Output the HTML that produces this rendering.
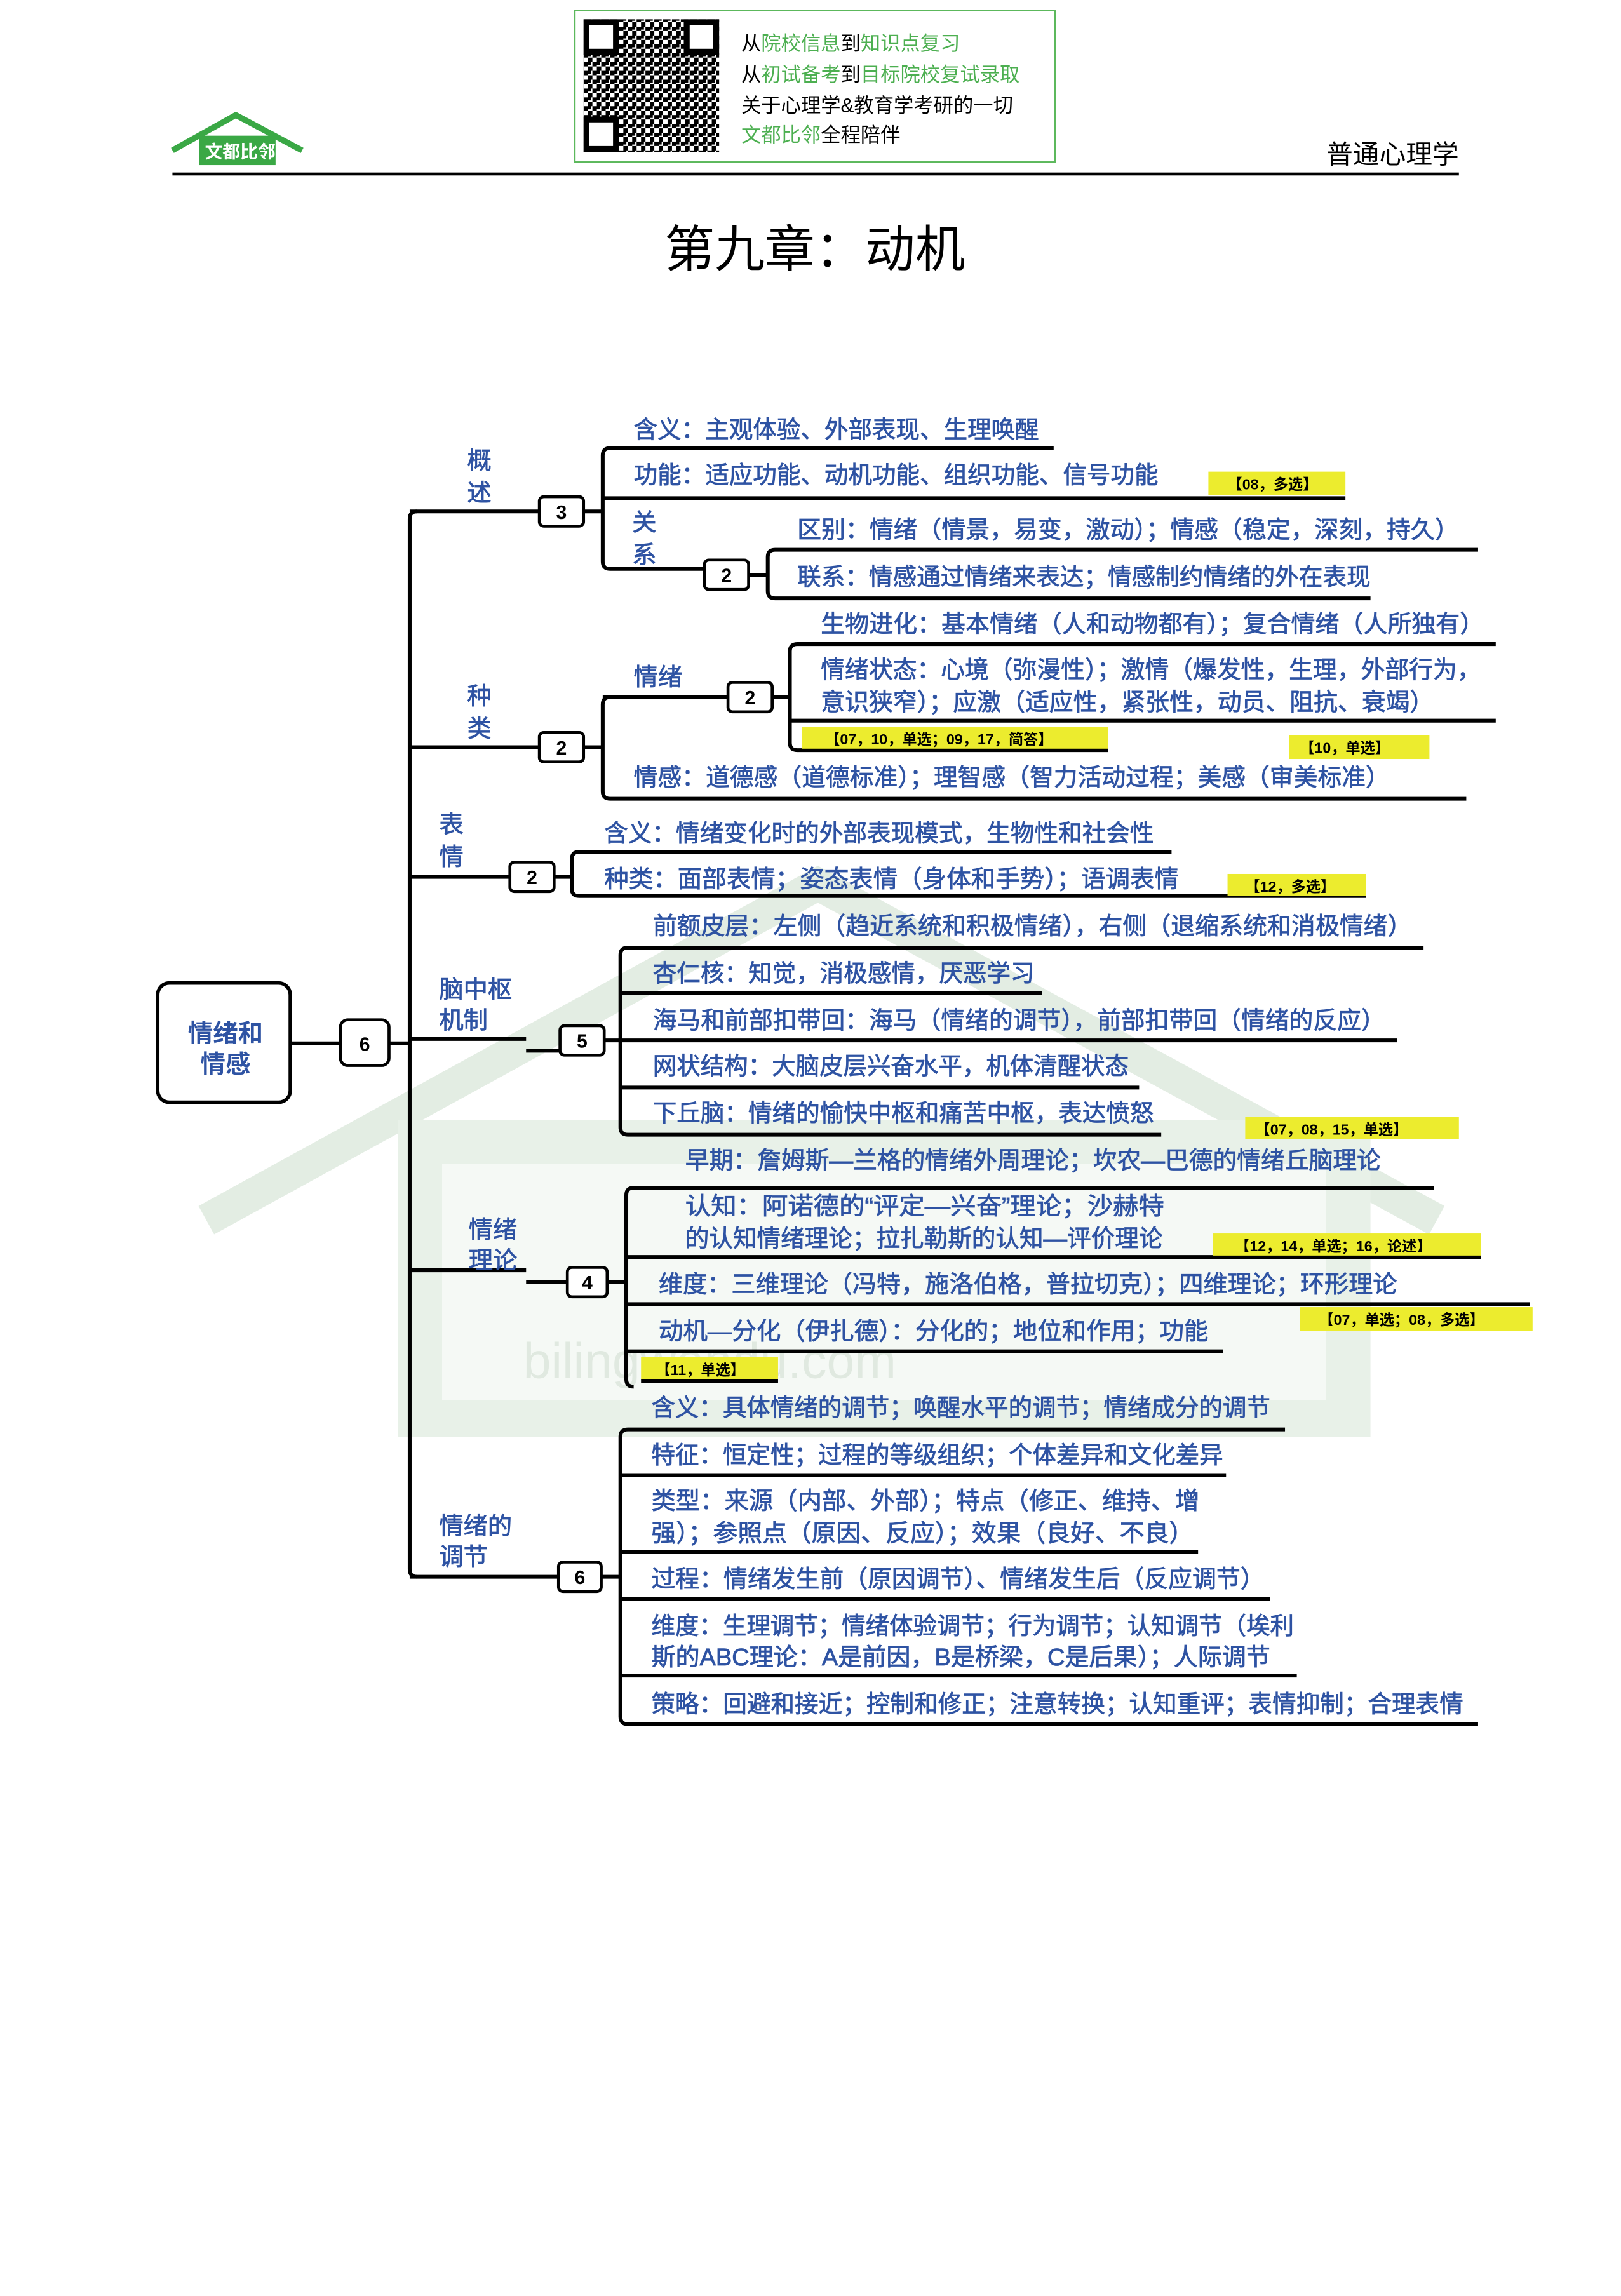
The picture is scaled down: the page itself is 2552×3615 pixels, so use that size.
<!DOCTYPE html>
<html><head><meta charset="utf-8"><style>
html,body{margin:0;padding:0;background:#fff}
svg{display:block}
text{font-family:"Liberation Sans","Noto Sans CJK SC",sans-serif}
.b{fill:#2e53a3;font-size:16.5px;stroke:#2e53a3;stroke-width:0.35}
.t{fill:#000;font-size:10px;font-weight:bold}
.n{fill:#000;font-size:13px;font-weight:bold;text-anchor:middle}
.l{stroke:#000;stroke-width:2.6;fill:none}
.box{stroke:#000;stroke-width:2;fill:#fff}
.y{fill:#ecec2e}
</style></head><body>
<svg width="2552" height="3615" viewBox="0 0 1100 1558" xmlns="http://www.w3.org/2000/svg">
<!-- watermark -->
<g fill="none" stroke="#e3ede3" stroke-width="22">
<path d="M140 828 L555 600 L975 828"/>
</g>
<rect x="270" y="760" width="660" height="215" fill="#e8f1e8"/>
<rect x="300" y="790" width="600" height="160" fill="#f5f9f5"/>
<text x="355" y="935" font-size="34" fill="#e0e9e0">bilingwendu.com</text>

<!-- header -->
<rect x="390" y="7" width="326" height="103" fill="#fff" stroke="#5cb85c" stroke-width="1.2"/>
<defs><pattern id="qr" width="6" height="6" patternUnits="userSpaceOnUse"><rect width="3" height="3" fill="#000"/><rect x="3" y="3" width="3" height="3" fill="#000"/><rect x="3" width="2" height="2" fill="#000"/></pattern></defs>
<rect x="396" y="13" width="92" height="90" fill="url(#qr)"/>
<g fill="#fff" stroke="#000" stroke-width="4">
<rect x="398" y="15" width="20" height="20"/><rect x="466" y="15" width="20" height="20"/><rect x="398" y="81" width="20" height="20"/></g>
<g font-size="13.5">
<text x="503" y="34"><tspan>从</tspan><tspan fill="#4caf50">院校信息</tspan><tspan>到</tspan><tspan fill="#4caf50">知识点复习</tspan></text>
<text x="503" y="55"><tspan>从</tspan><tspan fill="#4caf50">初试备考</tspan><tspan>到</tspan><tspan fill="#4caf50">目标院校复试录取</tspan></text>
<text x="503" y="76">关于心理学&amp;教育学考研的一切</text>
<text x="503" y="96"><tspan fill="#4caf50">文都比邻</tspan><tspan>全程陪伴</tspan></text>
</g>
<path d="M117 102 L160 78 L205 102" fill="none" stroke="#3aa845" stroke-width="4"/>
<rect x="135" y="92" width="52" height="20" fill="#3aa845"/>
<text x="139" y="107" font-size="12" fill="#fff" font-weight="bold">文都比邻</text>
<rect x="117" y="117" width="873" height="2" fill="#000"/>
<text x="900" y="111" font-size="18">普通心理学</text>
<text x="553" y="181" font-size="34" text-anchor="middle">第九章：动机</text>

<!-- root -->
<rect x="107" y="667" width="90" height="81" rx="8" fill="#fff" stroke="#000" stroke-width="2.4"/>
<text x="153" y="707" text-anchor="middle" font-size="17" font-weight="bold" fill="#2e53a3">情绪和</text>
<text x="153" y="728" text-anchor="middle" font-size="17" font-weight="bold" fill="#2e53a3">情感</text>
<path class="l" d="M197 708 H231 M264 708 H278"/>
<rect class="box" x="231" y="692" width="33" height="31" rx="5"/><text class="n" x="247.5" y="713">6</text>
<path class="l" d="M283 347 Q278 347 278 352 V1065 Q278 1070 283 1070"/>

<!-- 概述 -->
<path class="l" d="M278 347 H366 M396 347 H409"/>
<rect class="box" x="366" y="337" width="30" height="20" rx="3"/><text class="n" x="381" y="352">3</text>
<text class="b" x="317" y="318">概</text><text class="b" x="317" y="340">述</text>
<path class="l" d="M715 304 H414 Q409 304 409 309 V381 Q409 386 414 386 H478 M409 338 H913 M508 390 H521"/>
<text class="b" x="430" y="297" textLength="275" lengthAdjust="spacingAndGlyphs">含义：主观体验、外部表现、生理唤醒</text>
<text class="b" x="430" y="328" textLength="356" lengthAdjust="spacingAndGlyphs">功能：适应功能、动机功能、组织功能、信号功能</text>
<rect class="y" x="820" y="320" width="93" height="16"/><text class="t" x="833" y="332">【08，多选】</text>
<text class="b" x="429" y="360">关</text><text class="b" x="429" y="382">系</text>
<rect class="box" x="478" y="380" width="30" height="20" rx="3"/><text class="n" x="493" y="395">2</text>
<path class="l" d="M1003 373 H526 Q521 373 521 378 V401 Q521 406 526 406 H930"/>
<text class="b" x="541" y="365" textLength="449" lengthAdjust="spacingAndGlyphs">区别：情绪（情景，易变，激动）；情感（稳定，深刻，持久）</text>
<text class="b" x="541" y="397" textLength="389" lengthAdjust="spacingAndGlyphs">联系：情感通过情绪来表达；情感制约情绪的外在表现</text>

<!-- 种类 -->
<path class="l" d="M278 507 H366 M396 507 H409"/>
<rect class="box" x="366" y="497" width="30" height="20" rx="3"/><text class="n" x="381" y="512">2</text>
<text class="b" x="317" y="478">种</text><text class="b" x="317" y="500">类</text>
<path class="l" d="M414 473 Q409 473 409 478 V537 Q409 542 414 542 H995 M409 473 H494 M524 473 H536"/>
<text class="b" x="430" y="465">情绪</text>
<rect class="box" x="494" y="463" width="30" height="20" rx="3"/><text class="n" x="509" y="478">2</text>
<path class="l" d="M1015 437 H541 Q536 437 536 442 V504 Q536 509 541 509 H752 M536 489 H1015"/>
<text class="b" x="557" y="429" textLength="450" lengthAdjust="spacingAndGlyphs">生物进化：基本情绪（人和动物都有）；复合情绪（人所独有）</text>
<text class="b" x="557" y="460" textLength="448" lengthAdjust="spacingAndGlyphs">情绪状态：心境（弥漫性）；激情（爆发性，生理，外部行为，</text>
<text class="b" x="557" y="482" textLength="416" lengthAdjust="spacingAndGlyphs">意识狭窄）；应激（适应性，紧张性，动员、阻抗、衰竭）</text>
<rect class="y" x="544" y="493" width="208" height="15"/><text class="t" x="560" y="505">【07，10，单选；09，17，简答】</text>
<rect class="y" x="875" y="499" width="95" height="16"/><text class="t" x="882" y="511">【10，单选】</text>
<text class="b" x="430" y="533" textLength="513" lengthAdjust="spacingAndGlyphs">情感：道德感（道德标准）；理智感（智力活动过程；美感（审美标准）</text>

<!-- 表情 -->
<path class="l" d="M278 595 H346 M376 595 H388"/>
<rect class="box" x="346" y="585" width="30" height="20" rx="3"/><text class="n" x="361" y="600">2</text>
<text class="b" x="298" y="565">表</text><text class="b" x="298" y="587">情</text>
<path class="l" d="M795 578 H393 Q388 578 388 583 V603 Q388 608 393 608 H927"/>
<text class="b" x="410" y="571" textLength="373" lengthAdjust="spacingAndGlyphs">含义：情绪变化时的外部表现模式，生物性和社会性</text>
<text class="b" x="410" y="602" textLength="390" lengthAdjust="spacingAndGlyphs">种类：面部表情；姿态表情（身体和手势）；语调表情</text>
<rect class="y" x="833" y="593" width="94" height="15"/><text class="t" x="845" y="605">【12，多选】</text>

<!-- 脑中枢机制 -->
<path class="l" d="M278 705 H357 M357 713 H380 M410 706 H421"/>
<rect class="box" x="380" y="696" width="30" height="20" rx="3"/><text class="n" x="395" y="711">5</text>
<text class="b" x="298" y="677">脑中枢</text><text class="b" x="298" y="698">机制</text>
<path class="l" d="M966 643 H426 Q421 643 421 648 V765 Q421 770 426 770 H788 M421 674 H707 M421 706 H948 M421 738 H773"/>
<text class="b" x="443" y="634" textLength="515" lengthAdjust="spacingAndGlyphs">前额皮层：左侧（趋近系统和积极情绪），右侧（退缩系统和消极情绪）</text>
<text class="b" x="443" y="666" textLength="259" lengthAdjust="spacingAndGlyphs">杏仁核：知觉，消极感情，厌恶学习</text>
<text class="b" x="443" y="698" textLength="497" lengthAdjust="spacingAndGlyphs">海马和前部扣带回：海马（情绪的调节），前部扣带回（情绪的反应）</text>
<text class="b" x="443" y="729" textLength="323" lengthAdjust="spacingAndGlyphs">网状结构：大脑皮层兴奋水平，机体清醒状态</text>
<text class="b" x="443" y="761" textLength="340" lengthAdjust="spacingAndGlyphs">下丘脑：情绪的愉快中枢和痛苦中枢，表达愤怒</text>
<rect class="y" x="845" y="758" width="145" height="15"/><text class="t" x="852" y="770">【07，08，15，单选】</text>

<!-- 情绪理论 -->
<path class="l" d="M278 862 H357 M357 870 H385 M412 870 H425"/>
<rect class="box" x="385" y="860" width="27" height="20" rx="3"/><text class="n" x="398.5" y="875">4</text>
<text class="b" x="318" y="840">情绪</text><text class="b" x="318" y="861">理论</text>
<path class="l" d="M973 806 H430 Q425 806 425 811 V936 Q425 941 430 941 M425 853 H1005 M425 885 H1038 M425 917 H830"/>
<text class="b" x="465" y="793" textLength="472" lengthAdjust="spacingAndGlyphs">早期：詹姆斯—兰格的情绪外周理论；坎农—巴德的情绪丘脑理论</text>
<text class="b" x="465" y="824" textLength="325" lengthAdjust="spacingAndGlyphs">认知：阿诺德的“评定—兴奋”理论；沙赫特</text>
<text class="b" x="465" y="846" textLength="324" lengthAdjust="spacingAndGlyphs">的认知情绪理论；拉扎勒斯的认知—评价理论</text>
<rect class="y" x="823" y="837" width="182" height="15"/><text class="t" x="838" y="849">【12，14，单选；16，论述】</text>
<text class="b" x="447" y="877" textLength="501" lengthAdjust="spacingAndGlyphs">维度：三维理论（冯特，施洛伯格，普拉切克）；四维理论；环形理论</text>
<rect class="y" x="882" y="887" width="158" height="16"/><text class="t" x="895" y="899">【07，单选；08，多选】</text>
<text class="b" x="447" y="909" textLength="373" lengthAdjust="spacingAndGlyphs">动机—分化（伊扎德）：分化的；地位和作用；功能</text>
<rect class="y" x="435" y="921" width="93" height="15"/><text class="t" x="445" y="933">【11，单选】</text>
<path class="l" d="M435 937 H528"/>

<!-- 情绪的调节 -->
<path class="l" d="M278 1070 H379 M408 1070 H421"/>
<rect class="box" x="379" y="1060" width="29" height="20" rx="3"/><text class="n" x="393.5" y="1075">6</text>
<text class="b" x="298" y="1041">情绪的</text><text class="b" x="298" y="1062">调节</text>
<path class="l" d="M872 970 H426 Q421 970 421 975 V1165 Q421 1170 426 1170 H1003 M421 1001 H832 M421 1053 H813 M421 1085 H862 M421 1137 H880"/>
<text class="b" x="442" y="961" textLength="420" lengthAdjust="spacingAndGlyphs">含义：具体情绪的调节；唤醒水平的调节；情绪成分的调节</text>
<text class="b" x="442" y="993" textLength="388" lengthAdjust="spacingAndGlyphs">特征：恒定性；过程的等级组织；个体差异和文化差异</text>
<text class="b" x="442" y="1024" textLength="372" lengthAdjust="spacingAndGlyphs">类型：来源（内部、外部）；特点（修正、维持、增</text>
<text class="b" x="442" y="1046" textLength="368" lengthAdjust="spacingAndGlyphs">强）；参照点（原因、反应）；效果（良好、不良）</text>
<text class="b" x="442" y="1077" textLength="416" lengthAdjust="spacingAndGlyphs">过程：情绪发生前（原因调节）、情绪发生后（反应调节）</text>
<text class="b" x="442" y="1109" textLength="436" lengthAdjust="spacingAndGlyphs">维度：生理调节；情绪体验调节；行为调节；认知调节（埃利</text>
<text class="b" x="442" y="1130" textLength="420" lengthAdjust="spacingAndGlyphs">斯的ABC理论：A是前因，B是桥梁，C是后果）；人际调节</text>
<text class="b" x="442" y="1162" textLength="551" lengthAdjust="spacingAndGlyphs">策略：回避和接近；控制和修正；注意转换；认知重评；表情抑制；合理表情</text>
</svg>
</body></html>
